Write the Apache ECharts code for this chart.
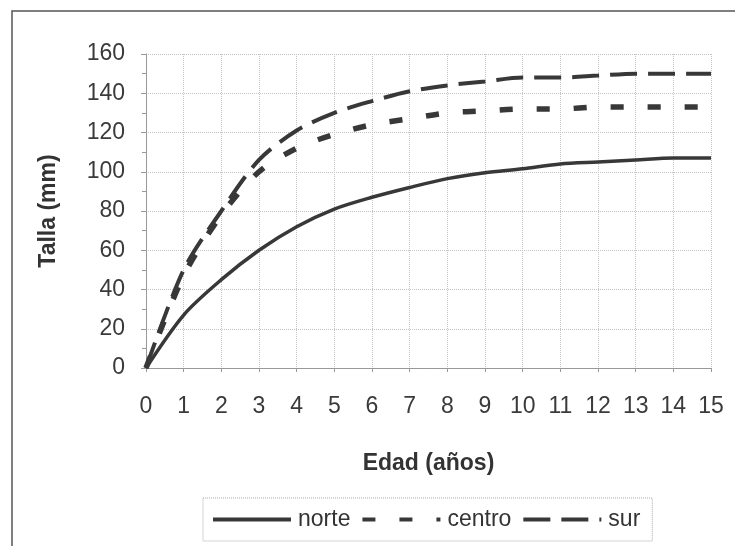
<!DOCTYPE html>
<html><head><meta charset="utf-8">
<script src="https://cdn.jsdelivr.net/npm/echarts@6/dist/echarts.min.js"></script>
<style>html,body{margin:0;padding:0;background:#fff}#c{width:735px;height:546px}</style>
</head><body><div id="c"></div>
<script>
const ages = [0,1,2,3,4,5,6,7,8,9,10,11,12,13,14,15];
const norte  = [0,27,45,60,72,81,87,92,96.5,99.5,101.5,104,105,106,107,107];
const centro = [0,47,78,100,112,119,124,127,130,131,132,132,133,133,133,133];
const sur    = [0,50,80,106,121,130,136,141,144,146,148,148,149,150,150,150];
const seriesNames = ['norte','centro','sur'];
const xTitle = 'Edad (años)';
const yTitle = 'Talla (mm)';

const pairs = v => ages.map((a,i)=>[a,v[i]]);
const col = '#383838';
const font = 'Liberation Sans, Arial, sans-serif';
const chart = echarts.init(document.getElementById('c'));
chart.setOption({
  animation:false,
  backgroundColor:'#fff',
  graphic:[{type:'rect',shape:{x:12,y:11,width:760,height:600},style:{fill:'none',stroke:'#555',lineWidth:1.5}}],
  grid:{left:146,right:24,top:54,bottom:178,containLabel:false},
  xAxis:{type:'value',min:0,max:15,interval:1,
    name:xTitle,nameLocation:'middle',nameGap:84,
    nameTextStyle:{fontFamily:font,fontSize:23,fontWeight:'bold',color:'#333'},
    axisLine:{lineStyle:{color:'#999',width:1}},
    axisTick:{show:true,lineStyle:{color:'#999'},length:4},
    axisLabel:{fontFamily:font,fontSize:23,color:'#3a3a3a',margin:27},
    splitLine:{show:true,lineStyle:{type:'dotted',color:'#c4c4c4',width:1}}},
  yAxis:{type:'value',min:0,max:160,interval:20,
    name:yTitle,nameLocation:'middle',nameGap:86,nameRotate:90,
    nameTextStyle:{fontFamily:font,fontSize:23,fontWeight:'bold',color:'#333'},
    axisLine:{show:true,lineStyle:{color:'#999',width:1}},
    axisTick:{show:true,lineStyle:{color:'#999'},length:5},
    minorTick:{show:true,splitNumber:2,length:4,lineStyle:{color:'#999'}},
    axisLabel:{fontFamily:font,fontSize:23,color:'#3a3a3a',margin:21},
    splitLine:{show:true,lineStyle:{type:'dotted',color:'#c4c4c4',width:1}}},
  legend:{top:498,left:203,itemWidth:78,itemHeight:14,itemGap:10,
    padding:[10,12,10,8],
    borderColor:'#aaa',borderWidth:1,borderType:'dotted',
    itemStyle:{opacity:0},
    lineStyle:{width:4},
    textStyle:{fontFamily:font,fontSize:23,color:'#333',padding:[0,0,0,2]},
    data:seriesNames},
  series:[
    {name:seriesNames[0],type:'line',data:pairs(norte),symbol:'none',smooth:0.3,
     lineStyle:{color:col,width:3.5,type:'solid'},itemStyle:{color:col}},
    {name:seriesNames[1],type:'line',data:pairs(centro),symbol:'none',smooth:0.3,
     lineStyle:{color:col,width:5.5,type:[13,24]},itemStyle:{color:col}},
    {name:seriesNames[2],type:'line',data:pairs(sur),symbol:'none',smooth:0.3,
     lineStyle:{color:col,width:4,type:[27,11]},itemStyle:{color:col}}
  ]
});
</script></body></html>
